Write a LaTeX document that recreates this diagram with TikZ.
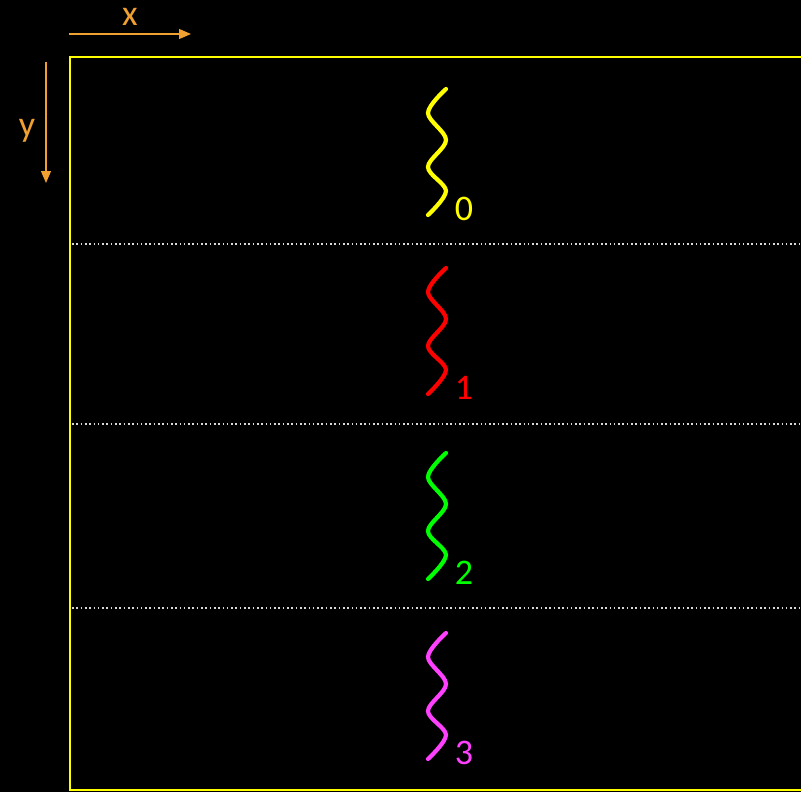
\documentclass[tikz,border=0pt]{standalone}
\usepackage{fontspec}
\setmainfont{Carlito}
\usetikzlibrary{arrows.meta}
\definecolor{axisor}{RGB}{240,160,48}
\definecolor{wyel}{RGB}{255,255,0}
\definecolor{wred}{RGB}{255,0,0}
\definecolor{wgreen}{RGB}{0,255,0}
\definecolor{wmag}{RGB}{255,64,255}
\begin{document}
\begin{tikzpicture}[x=1pt,y=-1pt,
  axisarrow/.style={draw=axisor,line width=1.2pt,-{Triangle[length=12pt,width=10pt]}},
  axislabel/.style={text=axisor,font=\fontsize{36}{36}\selectfont,inner sep=0pt,anchor=base},
  wave/.style={line width=4.2pt,line cap=round,line join=round},
  numlabel/.style={font=\fontsize{36}{36}\selectfont,inner sep=0pt},
  divider/.style={draw=white!85!black,line width=1.6pt,dash pattern=on 1.6pt off 2.7pt}]
\fill[black] (0,0) rectangle (801,792);
\useasboundingbox (0,0) rectangle (801,792);
% frame
\draw[wyel,line width=2pt] (805,57) -- (70,57) -- (70,790) -- (805,790);
% dividers
\draw[divider] (72,244) -- (801,244);
\draw[divider] (72,424) -- (801,424);
\draw[divider] (72,608) -- (801,608);
% axes
\coordinate (xs) at (69,34);
\coordinate (xe) at (191,34);
\coordinate (ys) at (46,62);
\coordinate (ye) at (46,183);
\draw[axisarrow] (xs) -- (xe);
\draw[axisarrow] (ys) -- (ye);
\node[axislabel] (xl) at (130,26) {x};
\node[axislabel] (yl) at (27,136) {y};
% waves
\foreach \dy/\col/\n in {0/wyel/0,179/wred/1,364/wgreen/2,544/wmag/3}{
  \draw[wave,\col] plot[smooth,tension=0.55] coordinates
    {(446,89+\dy) (428,113+\dy) (446,140+\dy) (428,167+\dy) (446,191+\dy) (428,215+\dy)};
  \node[numlabel,text=\col] (lab\n) at (464,209+\dy) {\n};
}
\end{tikzpicture}
\end{document}
